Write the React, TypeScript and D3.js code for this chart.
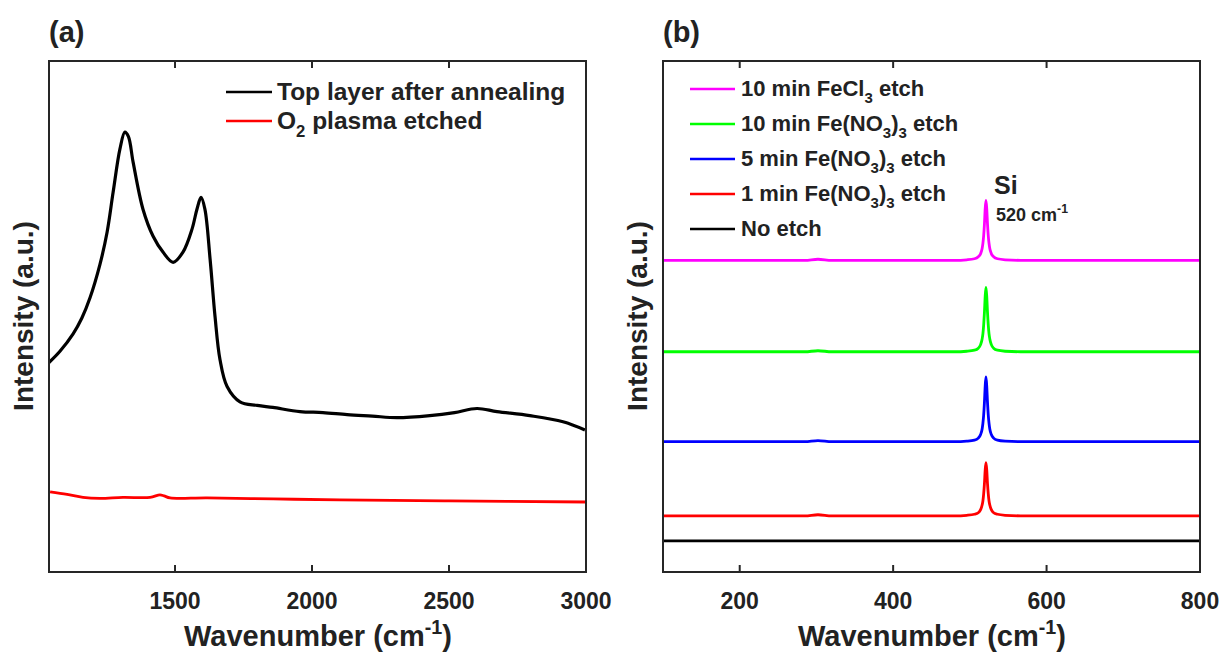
import React from "react";
import * as d3 from "d3";

// ---------- Panel (a): D/G region of the carbon layer ----------
const wavenumberA = [
  1040, 1080, 1128, 1160, 1190, 1226, 1252, 1274, 1299, 1317, 1330, 1347, 1383, 1420,
  1456, 1493, 1529, 1562, 1580, 1595, 1609, 1628, 1646, 1664, 1690, 1737, 1800, 1857,
  1956, 2040, 2128, 2220, 2310, 2430, 2520, 2602, 2675, 2795, 2916, 2996,
];
const topLayerAnnealed = [
  410, 432, 466, 497, 537, 602, 665, 743, 828, 861, 852, 802, 710, 657,
  626, 606, 626, 671, 710, 733, 710, 612, 500, 416, 363, 333, 326, 322,
  314, 312, 308, 305, 302, 306, 312, 320, 314, 306, 294, 278,
];
const wavenumberRed = [1044, 1106, 1164, 1226, 1310, 1409, 1445, 1460, 1482, 1617, 1858, 2102, 2500, 3000];
const o2PlasmaEtched = [157, 152, 146, 144, 146, 146, 151, 149, 145, 145, 143, 141, 139, 137];

const ticksA = [1500, 2000, 2500, 3000];

// ---------- Panel (b): Si band after the different etches ----------
const wavenumberB = [
  100, 200, 285, 302, 320, 400, 480, 496, 506, 511, 514, 516, 517, 518, 519,
  520, 521, 522, 523, 524, 525, 526, 528, 531, 536, 546, 566, 600, 700, 800,
];
const fecl3_10min = [
  610, 610, 610, 612, 610, 610, 610, 611, 613, 617, 623, 633, 643, 658, 681,
  711, 727, 711, 681, 658, 643, 633, 623, 617, 613, 611, 610, 610, 610, 610,
];
const feno3_10min = [
  431, 431, 431, 433, 431, 431, 431, 432, 434, 438, 445, 456, 466, 483, 508,
  540, 557, 540, 508, 483, 466, 456, 445, 438, 434, 432, 431, 431, 431, 431,
];
const feno3_5min = [
  255, 255, 255, 257, 255, 255, 255, 256, 258, 262, 269, 280, 291, 307, 332,
  364, 382, 364, 332, 307, 291, 280, 269, 262, 258, 256, 255, 255, 255, 255,
];
const feno3_1min = [
  110, 110, 110, 112, 110, 110, 110, 111, 113, 116, 122, 131, 139, 153, 173,
  200, 214, 200, 173, 153, 139, 131, 122, 116, 113, 111, 110, 110, 110, 110,
];
const noEtch = [
  61, 61, 61, 61, 61, 61, 61, 61, 61, 61, 61, 61, 61, 61, 61,
  61, 61, 61, 61, 61, 61, 61, 61, 61, 61, 61, 61, 61, 61, 61,
];

const ticksB = [200, 400, 600, 800];

const FONT = "'Liberation Sans', Arial, Helvetica, sans-serif";
const INK = "#222";

type Seg = { t: string; sub?: boolean; sup?: boolean };

function RichText({ x, y, parts, size, anchor = "start" }: { x: number; y: number; parts: Seg[]; size: number; anchor?: string }) {
  let shift = 0;
  return (
    <text x={x} y={y} fontFamily={FONT} fontWeight="bold" fontSize={size} fill={INK} textAnchor={anchor as any}>
      {parts.map((p, i) => {
        const target = p.sub ? size * 0.32 : p.sup ? -size * 0.42 : 0;
        const dy = target - shift;
        shift = target;
        return (
          <tspan key={i} dy={dy} fontSize={p.sub || p.sup ? size * 0.68 : size}>
            {p.t}
          </tspan>
        );
      })}
    </text>
  );
}

const TOP = 61;
const BOTTOM = 572;

function Frame({ left, right, ticks, x }: { left: number; right: number; ticks: number[]; x: d3.ScaleLinear<number, number> }) {
  return (
    <g>
      <rect x={left} y={TOP} width={right - left} height={BOTTOM - TOP} fill="none" stroke="#262626" strokeWidth={2} />
      {ticks.map((t) => (
        <g key={t}>
          <line x1={x(t)} x2={x(t)} y1={BOTTOM} y2={BOTTOM - 7} stroke="#262626" strokeWidth={2} />
          <line x1={x(t)} x2={x(t)} y1={TOP} y2={TOP + 7} stroke="#262626" strokeWidth={2} />
          <text x={x(t)} y={609} textAnchor="middle" fontFamily={FONT} fontWeight="bold" fontSize={23} fill={INK}>
            {t}
          </text>
        </g>
      ))}
    </g>
  );
}

export default function App() {
  // panel (a)
  const xA = d3.scaleLinear().domain([1040, 3000]).range([49, 586]);
  const yA = d3.scaleLinear().domain([0, 1000]).range([BOTTOM, TOP]);
  const lineA = (xs: number[], ys: number[]) =>
    d3
      .line<number>()
      .x((_, i) => xA(xs[i]))
      .y((v) => yA(v))
      .curve(d3.curveCatmullRom.alpha(0.5))(ys) as string;

  // panel (b)
  const xB = d3.scaleLinear().domain([100, 800]).range([663, 1200]);
  const yB = d3.scaleLinear().domain([0, 1000]).range([BOTTOM, TOP]);
  const lineB = d3
    .line<number>()
    .x((_, i) => xB(wavenumberB[i]))
    .y((v) => yB(v))
    .curve(d3.curveMonotoneX);

  const seriesB = [
    { label: [{ t: "10 min FeCl" }, { t: "3", sub: true }, { t: " etch" }], color: "#ff00ff", data: fecl3_10min },
    { label: [{ t: "10 min Fe(NO" }, { t: "3", sub: true }, { t: ")" }, { t: "3", sub: true }, { t: " etch" }], color: "#00ff00", data: feno3_10min },
    { label: [{ t: "5 min Fe(NO" }, { t: "3", sub: true }, { t: ")" }, { t: "3", sub: true }, { t: " etch" }], color: "#0000ff", data: feno3_5min },
    { label: [{ t: "1 min Fe(NO" }, { t: "3", sub: true }, { t: ")" }, { t: "3", sub: true }, { t: " etch" }], color: "#ff0000", data: feno3_1min },
    { label: [{ t: "No etch" }], color: "#000000", data: noEtch },
  ];

  const xTitle: Seg[] = [{ t: "Wavenumber (cm" }, { t: "-1", sup: true }, { t: ")" }];

  return (
    <svg width={1225} height={654} style={{ position: "absolute", left: 0, top: 0, background: "#fff" }}>
      <defs>
        <clipPath id="clipA">
          <rect x={49} y={TOP} width={537} height={BOTTOM - TOP} />
        </clipPath>
        <clipPath id="clipB">
          <rect x={663} y={TOP} width={537} height={BOTTOM - TOP} />
        </clipPath>
      </defs>

      {/* ---- (a) ---- */}
      <text x={49} y={42} fontFamily={FONT} fontWeight="bold" fontSize={29} fill={INK}>(a)</text>
      <g clipPath="url(#clipA)">
        <path d={lineA(wavenumberRed, o2PlasmaEtched)} fill="none" stroke="#ff0000" strokeWidth={2.8} />
        <path d={lineA(wavenumberA, topLayerAnnealed)} fill="none" stroke="#000" strokeWidth={3.2} strokeLinejoin="round" />
      </g>
      <Frame left={49} right={586} ticks={ticksA} x={xA} />
      <line x1={226} x2={272} y1={92} y2={92} stroke="#000" strokeWidth={2.5} />
      <RichText x={277} y={100} size={24.5} parts={[{ t: "Top layer after annealing" }]} />
      <line x1={226} x2={272} y1={121} y2={121} stroke="#ff0000" strokeWidth={2.5} />
      <RichText x={277} y={129} size={24.5} parts={[{ t: "O" }, { t: "2", sub: true }, { t: " plasma etched" }]} />
      <RichText x={318} y={646} size={29} anchor="middle" parts={xTitle} />
      <text transform="translate(33,316) rotate(-90)" textAnchor="middle" fontFamily={FONT} fontWeight="bold" fontSize={28} fill={INK}>
        Intensity (a.u.)
      </text>

      {/* ---- (b) ---- */}
      <text x={663} y={42} fontFamily={FONT} fontWeight="bold" fontSize={29} fill={INK}>(b)</text>
      <g clipPath="url(#clipB)">
        {seriesB.map((s) => (
          <path key={s.color} d={lineB(s.data) as string} fill="none" stroke={s.color} strokeWidth={2.8} />
        ))}
      </g>
      <Frame left={663} right={1200} ticks={ticksB} x={xB} />
      {seriesB.map((s, i) => (
        <g key={s.color}>
          <line x1={690} x2={735} y1={89 + i * 35} y2={89 + i * 35} stroke={s.color} strokeWidth={2.5} />
          <RichText x={741} y={96 + i * 35} size={22} parts={s.label as Seg[]} />
        </g>
      ))}
      <RichText x={994} y={194} size={25} parts={[{ t: "Si" }]} />
      <RichText x={996} y={221} size={18} parts={[{ t: "520 cm" }, { t: "-1", sup: true }]} />
      <RichText x={932} y={646} size={29} anchor="middle" parts={xTitle} />
      <text transform="translate(647,316) rotate(-90)" textAnchor="middle" fontFamily={FONT} fontWeight="bold" fontSize={28} fill={INK}>
        Intensity (a.u.)
      </text>
    </svg>
  );
}
